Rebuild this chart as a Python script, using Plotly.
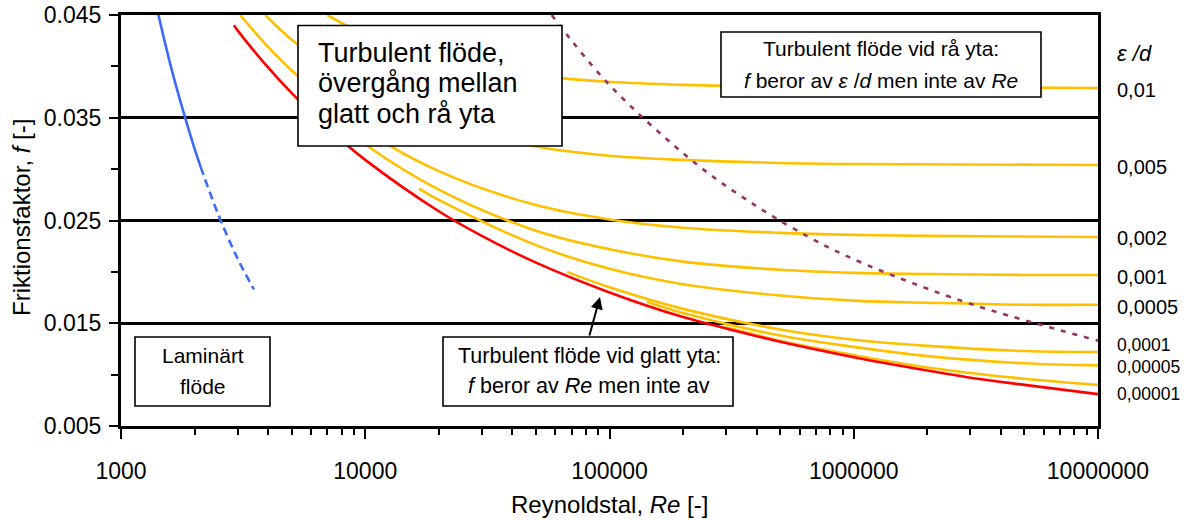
import plotly.graph_objects as go

# ---------------- data ----------------
re_lam = [1420, 1600, 1800, 2000, 2120]
f_lam = [0.0451, 0.0400, 0.0356, 0.0320, 0.0302]
re_lam_ext = [2120, 2500, 3000, 3500]
f_lam_ext = [0.0302, 0.0256, 0.0213, 0.0183]

re_smooth = [2900, 3000, 4000, 5000, 7000, 1e4, 2e4, 3e4, 5e4, 1e5, 2e5, 3e5, 5e5, 1e6, 2e6, 3e6, 5e6, 1e7]
f_smooth = [0.0440, 0.0435, 0.0399, 0.0374, 0.0340, 0.0309, 0.0259, 0.0235, 0.0209, 0.0180, 0.0156, 0.0145,
            0.0132, 0.0117, 0.0104, 0.0097, 0.0090, 0.0081]

re_e01 = [7000, 1e4, 2e4, 5e4, 1e5, 2e5, 5e5, 1e6, 1e7]
f_e01 = [0.0450, 0.0431, 0.0407, 0.0391, 0.0385, 0.0382, 0.0380, 0.0380, 0.0379]
re_e005 = [3900, 5000, 1e4, 2e4, 5e4, 1e5, 2e5, 5e5, 1e6, 1e7]
f_e005 = [0.0450, 0.0426, 0.0376, 0.0345, 0.0322, 0.0313, 0.0309, 0.0306, 0.0305, 0.0304]
re_e002 = [3070, 4000, 5000, 1e4, 2e4, 5e4, 1e5, 2e5, 5e5, 1e6, 2e6, 1e7]
f_e002 = [0.0450, 0.0419, 0.0396, 0.0338, 0.0298, 0.0265, 0.0251, 0.0243, 0.0238, 0.0236, 0.0235, 0.0234]
re_e001 = [7000, 1e4, 2e4, 5e4, 1e5, 2e5, 5e5, 1e6, 2e6, 5e6, 1e7]
f_e001 = [0.0353, 0.0324, 0.0280, 0.0240, 0.0222, 0.0210, 0.0202, 0.0199, 0.0198, 0.0197, 0.0197]
re_e0005 = [16600, 2e4, 5e4, 1e5, 2e5, 5e5, 1e6, 2e6, 5e6, 1e7]
f_e0005 = [0.0281, 0.0270, 0.0226, 0.0203, 0.0188, 0.0177, 0.0172, 0.0170, 0.0168, 0.0168]
re_e0001 = [67000, 1e5, 2e5, 5e5, 1e6, 2e6, 5e6, 1e7]
f_e0001 = [0.0200, 0.0185, 0.0164, 0.0144, 0.0134, 0.0128, 0.0123, 0.0122]
re_e00005 = [142000, 2e5, 5e5, 1e6, 2e6, 5e6, 1e7]
f_e00005 = [0.0171, 0.0160, 0.0138, 0.0127, 0.0118, 0.0111, 0.0109]
re_e00001 = [3e5, 5e5, 1e6, 2e6, 5e6, 1e7]
f_e00001 = [0.0146, 0.0133, 0.0119, 0.0107, 0.0096, 0.0090]

re_rough_limit = [58000, 63800, 102700, 229500, 412000, 653000, 904600, 1426000, 3090000, 1e7]
f_rough_limit = [0.0450, 0.0437, 0.0379, 0.0304, 0.0262, 0.0234, 0.0217, 0.0197, 0.0168, 0.0133]

x_ticks = [1000, 10000, 100000, 1000000, 10000000]
x_ticktext = ["1000", "10000", "100000", "1000000", "10000000"]
y_ticks = [0.005, 0.015, 0.025, 0.035, 0.045]
y_ticktext = ["0.005", "0.015", "0.025", "0.035", "0.045"]
y_minor = [0.01, 0.02, 0.03, 0.04]
x_minor = [m * 10 ** k for k in range(3, 7) for m in range(2, 10)]

eps_labels = ["0,01", "0,005", "0,002", "0,001", "0,0005", "0,0001", "0,00005", "0,00001"]

# ---------------- figure ----------------
FONT = "Liberation Sans, Arial, sans-serif"
YELLOW = "#FFC000"
W, H = 1189, 520
L, R, T, B = 121, 1098, 15, 426


def pxx(x):
    return (x - L) / (R - L)


def pxy(y):
    return (B - y) / (B - T)


fig = go.Figure()

yellow_sets = [(re_e01, f_e01), (re_e005, f_e005), (re_e002, f_e002), (re_e001, f_e001),
               (re_e0005, f_e0005), (re_e0001, f_e0001), (re_e00005, f_e00005), (re_e00001, f_e00001)]
for xs, ys in yellow_sets:
    fig.add_trace(go.Scatter(x=xs, y=ys, mode="lines",
                             line=dict(color=YELLOW, width=2.6, shape="spline")))

fig.add_trace(go.Scatter(x=re_smooth, y=f_smooth, mode="lines",
                         line=dict(color="#FF0000", width=2.6, shape="spline")))
fig.add_trace(go.Scatter(x=re_lam, y=f_lam, mode="lines",
                         line=dict(color="#3D6BF5", width=2.6, shape="spline")))
fig.add_trace(go.Scatter(x=re_lam_ext, y=f_lam_ext, mode="lines",
                         line=dict(color="#3D6BF5", width=2.6, dash="8px,5px", shape="spline")))
fig.add_trace(go.Scatter(x=re_rough_limit, y=f_rough_limit, mode="lines",
                         line=dict(color="#993366", width=2.6, dash="5px,7px", shape="spline")))

# boxes
boxes = [(298, 25.5, 562, 146), (721, 32, 1041, 97), (135, 337, 270, 406), (443, 337, 733, 406)]
for x0, y0, x1, y1 in boxes:
    fig.add_shape(type="rect", xref="paper", yref="paper", x0=pxx(x0), x1=pxx(x1), y0=pxy(y1), y1=pxy(y0),
                  line=dict(color="black", width=1.6), fillcolor="white", layer="above")

ann = []


def text(x, y, s, size, anchor="center", angle=0, color="black"):
    ann.append(dict(x=pxx(x), y=pxy(y), xref="paper", yref="paper", text=s, showarrow=False,
                    xanchor=anchor, yanchor="middle", textangle=angle,
                    font=dict(family=FONT, size=size, color=color)))


# big box
for i, s in enumerate(["Turbulent flöde,", "övergång mellan", "glatt och rå yta"]):
    text(316, 53 + i * 30.5, s, 27, anchor="left")
# rough box
text(881, 48, "Turbulent flöde vid rå yta:", 21)
text(881, 80, "<i>f</i> beror av <i>ε</i> /<i>d</i> men inte av <i>Re</i>", 21)
# laminar
text(202.5, 355.5, "Laminärt", 21)
text(202.5, 386, "flöde", 21)
# smooth box
text(589, 356, "Turbulent flöde vid glatt yta:", 21.5)
text(589, 386, "<i>f</i> beror av <i>Re</i> men inte av", 21.5)

# eps/d labels
text(1115, 53, "<i>ε /d</i>", 22, anchor="left")
lab_y = [90, 167, 237.5, 276.5, 306.5, 344.5, 367, 394]
lab_s = [20, 20, 20, 20, 20, 17.5, 17.5, 17.5]
for s, yy, sz in zip(eps_labels, lab_y, lab_s):
    text(1115, yy, s, sz, anchor="left")

# axis titles
text(609, 504.5, "Reynoldstal, <i>Re</i> [-]", 24)
text(22, 218, "Friktionsfaktor, <i>f</i> [-]", 24, angle=-90)

# arrow
ann.append(dict(x=pxx(600), y=pxy(297), xref="paper", yref="paper", text="", showarrow=True,
                ax=-11, ay=40, arrowhead=2, arrowsize=1.2, arrowwidth=2, arrowcolor="black"))

fig.update_layout(
    width=W, height=H, autosize=False,
    margin=dict(l=L, r=W - R, t=T, b=H - B, pad=0),
    paper_bgcolor="white", plot_bgcolor="white",
    showlegend=False,
    font=dict(family=FONT, size=23, color="black"),
    annotations=ann,
)

fig.update_xaxes(type="log", range=[3, 7], tickvals=x_ticks, ticktext=x_ticktext,
                 ticks="outside", ticklen=10, tickwidth=2, tickcolor="black",
                 showgrid=False, zeroline=False, showline=True, linewidth=3, linecolor="black", mirror=True,
                 tickfont=dict(family=FONT, size=23), ticklabelstandoff=12, automargin=False,
                 minor=dict(tickvals=x_minor, ticks="outside", ticklen=6, tickwidth=2, tickcolor="black",
                            showgrid=False))
fig.update_yaxes(range=[0.005, 0.045], tickvals=y_ticks, ticktext=y_ticktext,
                 ticks="outside", ticklen=9, tickwidth=2, tickcolor="black",
                 showgrid=True, gridcolor="black", gridwidth=2.5, zeroline=False,
                 showline=True, linewidth=3, linecolor="black", mirror=True,
                 tickfont=dict(family=FONT, size=23), ticklabelstandoff=3, automargin=False,
                 minor=dict(tickvals=y_minor, ticks="outside", ticklen=7, tickwidth=2, tickcolor="black",
                            showgrid=False))

fig.write_html("out.html")
